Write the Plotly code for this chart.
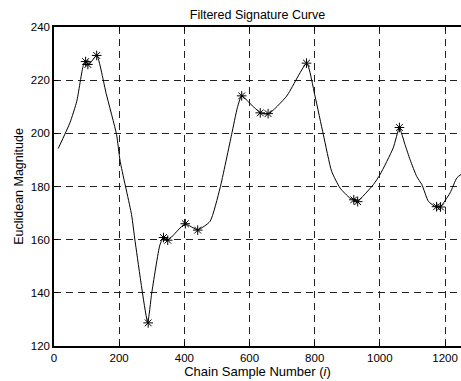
import plotly.graph_objects as go

# Curve trace (Chain Sample Number vs Euclidean Magnitude)
curve_x = [13, 49, 70, 90, 98, 107, 131, 160, 192, 203, 238, 249, 287.5, 300, 325, 337, 351,
           402, 441, 479, 509.5, 545, 562.6, 576, 601.6, 634, 658, 714, 775.6, 801, 826.6,
           852, 878, 908.5, 924, 931, 980, 1000.6, 1041, 1060, 1077, 1093, 1113, 1129, 1149,
           1172.5, 1185, 1215.5, 1236, 1252]
curve_y = [194.3, 204, 212.1, 225.5, 226.8, 225.9, 229.3, 215, 199.5, 189.5, 169.4, 159.3, 129.0, 140, 158, 161, 160,
           165.9, 163.7, 166.9, 179.4, 199.5, 209.6, 214.2, 211.2, 207.7, 207.3, 214, 226.3, 214, 199.5,
           185.7, 179.4, 175.6, 174.8, 174.4, 180.7, 184.5, 194.5, 202, 195.8, 190, 183.8, 180.7, 174.4,
           172.3, 172.3, 177.6, 183.2, 184.8]

# Detected feature points (asterisks)
mark_x = [97, 104, 131, 289, 336, 349, 403, 441, 576, 633, 657, 775, 920, 932, 1060, 1174, 1186]
mark_y = [227.0, 225.9, 229.3, 128.7, 160.8, 159.8, 166.0, 163.6, 214.1, 207.7, 207.4, 226.4,
          175.0, 174.3, 202.2, 172.4, 172.3]

x_ticks = [0, 200, 400, 600, 800, 1000, 1200]
y_ticks = [120, 140, 160, 180, 200, 220, 240]

title_text = "Filtered Signature Curve"
x_label = "Chain Sample Number (<i>i</i>)"
y_label = "Euclidean Magnitude"

fig = go.Figure()
fig.add_trace(go.Scatter(x=curve_x, y=curve_y, mode="lines",
                         line=dict(color="black", width=1, shape="spline", smoothing=0.5),
                         hoverinfo="skip", showlegend=False))
fig.add_trace(go.Scatter(x=mark_x, y=mark_y, mode="markers",
                         marker=dict(symbol="asterisk-open", size=8, color="black",
                                     line=dict(color="black", width=1)),
                         showlegend=False))

font_family = "Liberation Sans, Arial, Helvetica, sans-serif"
fig.update_layout(
    width=461, height=381,
    margin=dict(l=54, r=0, t=27, b=35),
    paper_bgcolor="white", plot_bgcolor="white",
    font=dict(family=font_family, size=12, color="black"),
    title=dict(text=title_text, x=0.5, xanchor="center", xref="paper",
               y=1 - 15 / 381, yanchor="middle", font=dict(size=12.5)),
)
fig.update_xaxes(
    range=[0, 1249], tickvals=x_ticks, ticktext=[str(v) for v in x_ticks],
    showline=True, linecolor="black", linewidth=1.5, mirror="ticks",
    ticks="inside", ticklen=4, tickcolor="black", tickfont=dict(size=11.5),
    showgrid=True, gridcolor="#222", gridwidth=1, griddash="7px,5px",
    zeroline=False,
    title=dict(text=x_label, standoff=1, font=dict(size=13)),
)
fig.update_yaxes(
    range=[120, 240], tickvals=y_ticks, ticktext=[str(v) for v in y_ticks],
    showline=True, linecolor="black", linewidth=1.5, mirror=False,
    ticks="inside", ticklen=4, tickcolor="black", tickfont=dict(size=11.5),
    showgrid=True, gridcolor="#222", gridwidth=1, griddash="7px,5px",
    zeroline=False,
    title=dict(text=y_label, standoff=4, font=dict(size=12.5)),
)

fig.write_html("out.html")
